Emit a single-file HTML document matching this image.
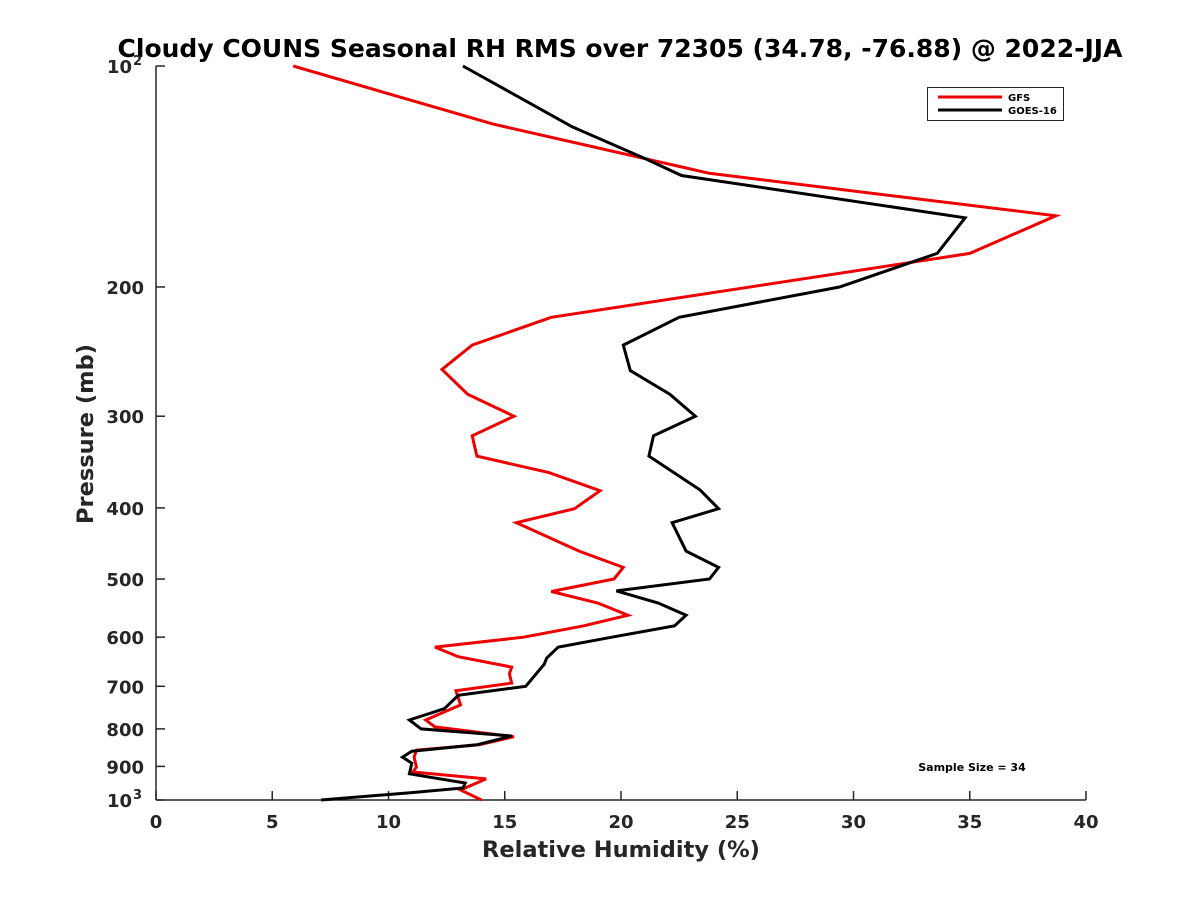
<!DOCTYPE html>
<html><head><meta charset="utf-8"><style>
html,body{margin:0;padding:0;background:#fff;}
svg text{font-family:"DejaVu Sans","Liberation Sans",sans-serif;font-weight:bold;}
</style></head><body>
<svg id="chart" width="1200" height="900" xmlns="http://www.w3.org/2000/svg">
<rect width="1200" height="900" fill="#fff"/>
<text x="620" y="57" text-anchor="middle" font-size="25" fill="#000">Cloudy COUNS Seasonal RH RMS over 72305 (34.78, -76.88) @ 2022-JJA</text>
<g id="axes"></g>
<g id="series"></g>
<text x="621" y="857" text-anchor="middle" font-size="22.5" fill="#262626">Relative Humidity (%)</text>
<text transform="translate(93,434) rotate(-90)" text-anchor="middle" font-size="22.5" fill="#262626">Pressure (mb)</text>
<text x="972" y="771" text-anchor="middle" font-size="11" fill="#000">Sample Size = 34</text>
<g>
<rect x="927.5" y="87.5" width="136" height="33" fill="#fff" stroke="#262626" stroke-width="1"/>
<line x1="938" y1="97" x2="1002" y2="97" stroke="#ee0000" stroke-width="3"/>
<text x="1008" y="101" font-size="10" fill="#000">GFS</text>
<line x1="938" y1="110" x2="1002" y2="110" stroke="#000" stroke-width="3"/>
<text x="1008" y="114" font-size="10" fill="#000">GOES-16</text>
</g>
</svg>
<script>
const xTicks = [0,5,10,15,20,25,30,35,40];
const yTicks = [100,200,300,400,500,600,700,800,900,1000];
const gfsPressure = [100,120,137,140,160,180,220,240,259,280,300,319,340,358,379,401,419,458,482,500,520,539,560,579,600,619,638,659,673,693,710,742,778,795,820,841,855,874,902,916,936,969,1000];
const gfsRH = [5.9,14.5,22.5,23.8,38.7,35.0,17.0,13.6,12.3,13.4,15.4,13.6,13.8,16.9,19.1,18.0,15.5,18.2,20.1,19.7,17.0,19.0,20.3,18.4,15.8,12.0,13.0,15.3,15.2,15.3,12.9,13.1,11.6,12.0,15.4,13.9,11.2,11.1,11.2,11.05,14.2,13.1,14.0];
const goesPressure = [100,121,134,141,161,180,200,220,240,260,280,300,319,340,378,401,419,458,482,500,519,539,560,579,600,619,641,653,700,720,751,778,800,818,841,858,874,891,921,948,963,977,1000];
const goesRH = [13.2,17.9,21.1,22.6,34.8,33.6,29.4,22.5,20.1,20.4,22.1,23.2,21.4,21.2,23.4,24.2,22.2,22.8,24.2,23.8,19.8,21.6,22.8,22.3,19.6,17.3,16.8,16.7,15.9,13.0,12.4,10.9,11.4,15.3,13.8,11.0,10.6,11.0,10.9,13.3,13.2,11.0,7.1];

const NS='http://www.w3.org/2000/svg';
const X0=156,X1=1086,Y0=66,Y1=800;
function xs(v){return X0+(v-0)/(40-0)*(X1-X0);}
function ys(p){return Y0+(Math.log10(p)-2)/(3-2)*(Y1-Y0);}
function mk(tag,attrs,parent){const e=document.createElementNS(NS,tag);for(const k in attrs)e.setAttribute(k,attrs[k]);parent.appendChild(e);return e;}

const axes=document.getElementById('axes');
const xAxis=mk('line',{x1:X0,y1:Y1,x2:X1,y2:Y1,stroke:'#262626','stroke-width':1.5},axes);


const yAxis=mk('line',{x1:X0,y1:Y0,x2:X0,y2:Y1,stroke:'#262626','stroke-width':1.5},axes);



xTicks.forEach(v=>{
  const x=xs(v);
  const t=mk('line',{x1:x,y1:Y1,x2:x,y2:Y1-9,stroke:'#262626','stroke-width':1.5},axes);
  
  
  const l=mk('text',{x:x,y:Y1+28,'text-anchor':'middle','font-size':18,fill:'#262626'},axes);
  
  
  l.textContent=String(v);
});
yTicks.forEach(p=>{
  const y=ys(p);
  const t=mk('line',{x1:X0,y1:y,x2:X0+9,y2:y,stroke:'#262626','stroke-width':1.5},axes);
  
  
  const l=mk('text',{x:X0-12,y:y+7,'text-anchor':'end','font-size':18,fill:'#262626'},axes);
  
  
  if(p===100||p===1000){
    l.setAttribute('x',X0-24);
    l.textContent='10';
    const s=mk('text',{x:X0-23,y:y-1,'text-anchor':'start','font-size':13,fill:'#262626'},axes);
    
    
    s.textContent=p===100?'2':'3';
  } else l.textContent=String(p);
});

const series=document.getElementById('series');
function drawLine(pr,vals,color,name){
  const pts=vals.map((v,i)=>xs(v).toFixed(1)+','+ys(pr[i]).toFixed(1)).join(' ');
  const pl=mk('polyline',{points:pts,fill:'none',stroke:color,'stroke-width':3,'stroke-linejoin':'miter'},series);
  
  
}
drawLine(gfsPressure,gfsRH,'#ee0000','gfs-line');
drawLine(goesPressure,goesRH,'#000000','goes16-line');
</script>
</body></html>
